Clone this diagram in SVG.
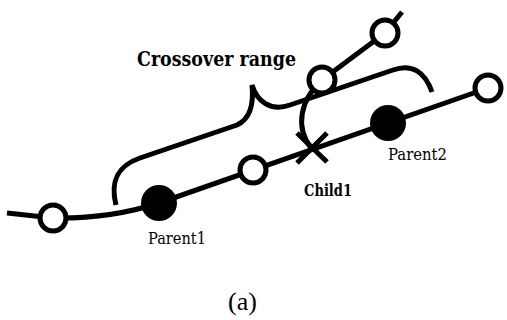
<svg xmlns="http://www.w3.org/2000/svg" width="507" height="320" viewBox="0 0 507 320">
  <style>
    .line { fill: none; stroke: #000; stroke-width: 5; }
    .open { fill: #fff; stroke: #000; stroke-width: 5; }
    .full { fill: #000; }
    .bold { font-family: "DejaVu Serif", "Liberation Serif", serif; font-weight: bold; fill: #000; }
    .reg { font-family: "DejaVu Serif", "Liberation Serif", serif; fill: #000; }
    .cap { font-family: "Liberation Serif", "Times New Roman", serif; fill: #000; }
  </style>
  <rect width="507" height="320" fill="#fff"/>

  <!-- connectors -->
  <g id="connectors">
    <!-- main chromosome path -->
    <path class="line" d="M7,213 L53,218 Q110,219 159,203 L488,88"/>
    <!-- child branch leaving the crossover point -->
    <path class="line" d="M311,148 C295,127 300,100 322,80 L385,33 L402,12"/>
    <!-- crossover point mark -->
    <path class="line" d="M297,133 L327,162 M327,133 L297,163"/>
    <!-- curly brace marking the crossover range -->
    <path class="line" d="M116,205 C111,185 114,167 140,158 L237,125 C250,119 254,105 252,85 C257,101 270,112 290,105 L393,70 C412,63 425,72 432,92"/>
  </g>

  <!-- nodes -->
  <g id="n0"><circle class="open" cx="53" cy="218" r="13"/></g>
  <g id="parent1"><circle class="full" cx="159" cy="203" r="18"/></g>
  <g id="n2"><circle class="open" cx="253" cy="170" r="13"/></g>
  <g id="parent2"><circle class="full" cx="388" cy="123" r="18"/></g>
  <g id="n4"><circle class="open" cx="488" cy="88" r="13"/></g>
  <g id="n5"><circle class="open" cx="322" cy="80" r="13"/></g>
  <g id="n6"><circle class="open" cx="385" cy="33" r="13"/></g>

  <!-- labels -->
  <g id="labels">
    <text class="bold" x="137" y="66" font-size="20" textLength="159" lengthAdjust="spacingAndGlyphs">Crossover range</text>
    <text class="bold" x="304" y="196" font-size="16" textLength="48" lengthAdjust="spacingAndGlyphs">Child1</text>
    <text class="reg" x="388" y="160" font-size="16" textLength="59" lengthAdjust="spacingAndGlyphs">Parent2</text>
    <text class="reg" x="148" y="244" font-size="16" textLength="58" lengthAdjust="spacingAndGlyphs">Parent1</text>
    <text class="cap" x="228" y="310" font-size="26">(a)</text>
  </g>
</svg>
